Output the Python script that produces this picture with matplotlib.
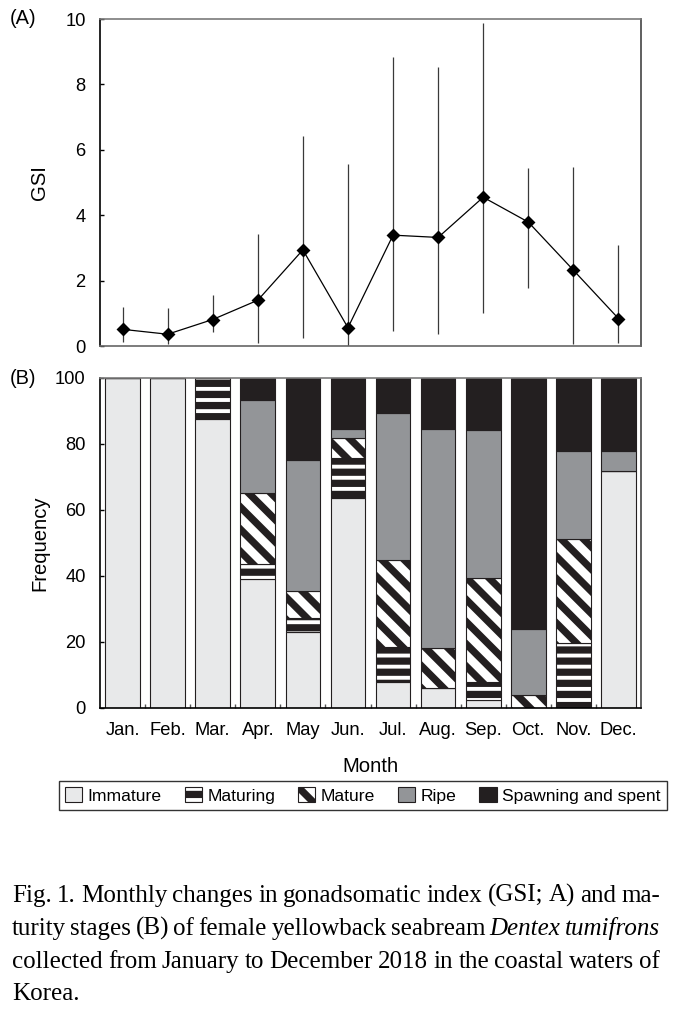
import matplotlib
matplotlib.use('Agg')
import matplotlib.pyplot as plt
import numpy as np

months = ['Jan.', 'Feb.', 'Mar.', 'Apr.', 'May', 'Jun.',
          'Jul.', 'Aug.', 'Sep.', 'Oct.', 'Nov.', 'Dec.']

# (A) GSI, mean with lower / upper end of the bar
gsi_mean = [0.51, 0.36, 0.81, 1.40, 2.94, 0.56, 3.39, 3.32, 4.55, 3.79, 2.32, 0.84]
gsi_upper = [1.20, 1.17, 1.55, 3.41, 6.41, 5.57, 8.85, 8.53, 9.89, 5.44, 5.46, 3.10]
gsi_lower = [0.13, 0.05, 0.44, 0.10, 0.23, 0.00, 0.46, 0.36, 1.02, 1.76, 0.07, 0.10]

# (B) maturity stages, % per month
stages = ['Immature', 'Maturing', 'Mature', 'Ripe', 'Spawning and spent']
immature = [100.0, 100.0, 87.6, 39.1, 22.9, 63.6, 7.8, 6.1, 2.5, 0.0, 0.0, 71.9]
maturing = [0.0, 0.0, 12.4, 4.5, 4.4, 12.2, 10.7, 0.0, 5.4, 0.0, 19.7, 0.0]
mature = [0.0, 0.0, 0.0, 21.6, 8.3, 6.0, 26.3, 12.1, 31.5, 4.0, 31.5, 0.0]
ripe = [0.0, 0.0, 0.0, 28.0, 39.4, 2.8, 44.6, 66.4, 44.7, 19.9, 26.8, 6.1]
spawning = [0.0, 0.0, 0.0, 6.8, 25.0, 15.4, 10.6, 15.4, 15.9, 76.1, 22.0, 22.0]

caption = [
    [('Fig. 1. Monthly changes in gonadsomatic index (GSI; A) and ma-', 'normal')],
    [('turity stages (B) of female yellowback seabream', 'normal'),
     ('Dentex tumifrons', 'italic')],
    [('collected from January to December 2018 in the coastal waters of', 'normal')],
    [('Korea.', 'normal')],
]

plt.rcParams['font.family'] = ['Liberation Sans', 'DejaVu Sans']
plt.rcParams['hatch.linewidth'] = 2.6

DPI = 200
W, H = 678, 1010
fig = plt.figure(figsize=(W / DPI, H / DPI), dpi=DPI)


def box(l, t, r, b):
    # pixel box -> figure fraction
    return [l / W, 1 - b / H, (r - l) / W, (b - t) / H]


axA = fig.add_axes(box(100, 19, 641, 346))
axB = fig.add_axes(box(100, 378, 641, 708))
x = np.arange(len(months))
tick_fs = 6.6
label_fs = 7.3

# ---- panel A
mean = np.array(gsi_mean)
yerr = [mean - np.array(gsi_lower), np.array(gsi_upper) - mean]
axA.errorbar(x, mean, yerr=yerr, fmt='none', ecolor='#3a3a3a', elinewidth=0.45)
axA.plot(x, mean, color='black', lw=0.45, marker='D', ms=2.7, zorder=3)
axA.set_xlim(-0.5, 11.5)
axA.set_ylim(0, 10)
axA.set_yticks(range(0, 11, 2))
axA.tick_params(axis='y', direction='in', length=1.5, width=0.5, pad=5.2,
                labelsize=tick_fs)
axA.tick_params(axis='x', length=0, labelbottom=False)
axA.set_ylabel('GSI', fontsize=label_fs)
axA.yaxis.set_label_coords(-0.094, 0.5)
for side, c in [('left', 'black'), ('top', '#7a7a7a'), ('right', '#444444'),
                ('bottom', '#666666')]:
    axA.spines[side].set_color(c)
    axA.spines[side].set_linewidth(0.6)

# ---- panel B
edge = '#231f20'
specs = [
    (immature, dict(color='#e8e9ea')),
    (maturing, dict(color='white', hatch='---')),
    (mature, dict(color='white', hatch='\\\\\\')),
    (ripe, dict(color='#939598')),
    (spawning, dict(color='#231f20')),
]
bottom = np.zeros(len(months))
handles = []
for name, (vals, st) in zip(stages, specs):
    bars = axB.bar(x, vals, width=0.77, bottom=bottom, color=st['color'],
                   edgecolor=edge, linewidth=0.4, hatch=st.get('hatch'),
                   label=name)
    handles.append(bars)
    bottom += np.array(vals)

axB.set_xlim(-0.5, 11.5)
axB.set_ylim(0, 100)
axB.set_yticks(range(0, 101, 20))
axB.set_xticks(x)
axB.set_xticklabels(months)
axB.set_xticks(np.arange(0.5, 11, 1), minor=True)
axB.tick_params(axis='y', direction='in', length=1.5, width=0.5, pad=5.2,
                labelsize=tick_fs)
axB.tick_params(axis='x', which='major', length=0, pad=5.0, labelsize=tick_fs)
axB.tick_params(axis='x', which='minor', direction='in', length=1.4,
                width=0.5, color='#555555')
axB.set_ylabel('Frequency', fontsize=label_fs)
axB.yaxis.set_label_coords(-0.094, 0.5)
axB.set_xlabel('Month', fontsize=label_fs)
axB.xaxis.set_label_coords(0.5, -0.148)
for side, c in [('left', 'black'), ('bottom', 'black'), ('top', '#7a7a7a'),
                ('right', '#444444')]:
    axB.spines[side].set_color(c)
    axB.spines[side].set_linewidth(0.6)

leg = fig.legend(handles, stages, loc='center', bbox_to_anchor=(0.535, 0.2125),
                 ncol=5, fontsize=6.3, frameon=True, fancybox=False,
                 edgecolor='#333333', framealpha=1, handlelength=1.0,
                 handleheight=0.95, handletextpad=0.3, columnspacing=1.3,
                 borderpad=0.35, borderaxespad=0)
leg.get_frame().set_linewidth(0.5)

fig.text(10 / W, 1 - 19 / H, '(A)', fontsize=7.2, va='center')
fig.text(10 / W, 1 - 378 / H, '(B)', fontsize=7.2, va='center')

# ---- caption, justified between x=12 and x=660
renderer = fig.canvas.get_renderer()
cap_fs = 9.0
left, right = 12, 660
baselines = [902, 935, 968, 1000]


def text_width(s, **kw):
    t = fig.text(0, 0, s, fontsize=cap_fs, family='Liberation Serif', **kw)
    w = t.get_window_extent(renderer).width
    t.remove()
    return w


space_w = text_width('a a') - text_width('aa')
for i, (parts, base) in enumerate(zip(caption, baselines)):
    words = []
    for txt, style in parts:
        for w in txt.split(' '):
            t = fig.text(0, 1 - base / H, w, fontsize=cap_fs, va='baseline',
                         family='Liberation Serif', style=style)
            words.append(t)
    widths = [t.get_window_extent(renderer).width for t in words]
    if i == len(caption) - 1 or len(words) == 1:
        gap = space_w
    else:
        gap = (right - left - sum(widths)) / (len(words) - 1)
    xpos = left
    for t, w in zip(words, widths):
        t.set_x(xpos / W)
        xpos += w + gap

fig.savefig('out.png', dpi=DPI)
